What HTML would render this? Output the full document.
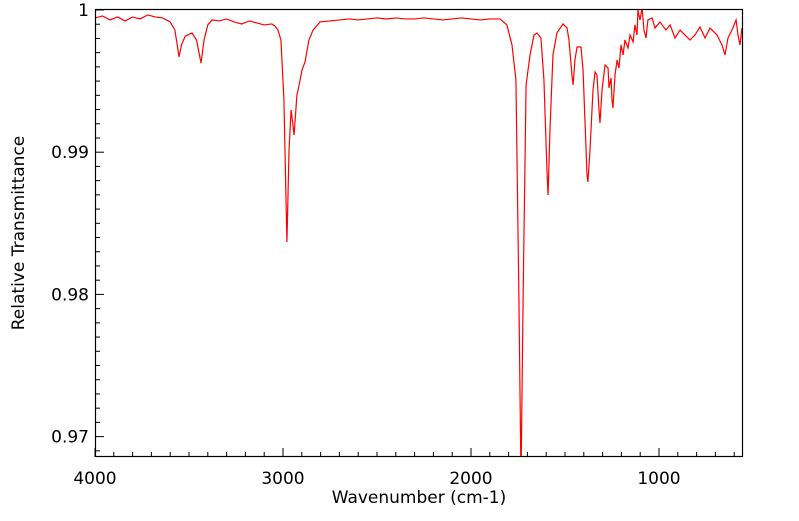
<!DOCTYPE html>
<html><head><meta charset="utf-8"><style>
html,body{margin:0;padding:0;background:#fff;}
svg text{font-family:"DejaVu Sans","Liberation Sans",sans-serif;fill:#000;}
</style></head><body>
<svg id="chart" width="799" height="516" xmlns="http://www.w3.org/2000/svg">
<defs><clipPath id="clip"><rect x="95" y="10" width="648" height="447"/></clipPath></defs>
<g id="axes"></g>
<path id="spec" fill="none" stroke="#ff0000" stroke-width="1.2" clip-path="url(#clip)"/>
<rect x="95.5" y="9.5" width="647" height="447" fill="none" stroke="#000" stroke-width="1.2"/>
<text x="419" y="503" text-anchor="middle" font-size="17">Wavenumber (cm-1)</text>
<text x="24" y="233" text-anchor="middle" font-size="17" transform="rotate(-90 24 233)">Relative Transmittance</text>
</svg>
<script>
const wavenumbers=[4000,3960,3920,3880,3840,3800,3760,3720,3680,3640,3600,3575,3553,3540,3520,3484,3460,3436,3420,3400,3378,3340,3300,3260,3220,3180,3140,3100,3060,3043,3027,3011,2995,2984,2979,2968,2957,2947,2941,2926,2915,2899,2883,2862,2840,2803,2750,2697,2650,2600,2550,2500,2450,2400,2350,2300,2250,2200,2150,2100,2050,2000,1950,1900,1846,1809,1782,1761,1745,1734,1723,1707,1686,1665,1649,1628,1612,1596,1590,1580,1564,1543,1511,1489,1479,1463,1457,1447,1436,1415,1404,1394,1383,1378,1367,1351,1340,1330,1319,1314,1303,1287,1271,1266,1255,1250,1245,1234,1223,1213,1202,1191,1181,1165,1154,1138,1128,1117,1112,1101,1090,1080,1069,1059,1037,1021,995,963,941,915,888,862,835,809,782,755,729,691,665,649,633,612,590,580,569,559];
const transmittance=[0.99944,0.99958,0.99930,0.99951,0.99923,0.99951,0.99937,0.99965,0.99951,0.99944,0.99916,0.99859,0.99670,0.99754,0.99817,0.99838,0.99789,0.99627,0.99789,0.99895,0.99930,0.99923,0.99937,0.99916,0.99902,0.99923,0.99909,0.99895,0.99902,0.99888,0.99859,0.99789,0.99367,0.98664,0.98369,0.99016,0.99297,0.99192,0.99121,0.99402,0.99466,0.99578,0.99634,0.99789,0.99859,0.99916,0.99923,0.99930,0.99937,0.99930,0.99937,0.99944,0.99937,0.99944,0.99937,0.99937,0.99944,0.99937,0.99930,0.99937,0.99944,0.99937,0.99930,0.99937,0.99937,0.99895,0.99754,0.99508,0.97961,0.96696,0.97961,0.99473,0.99684,0.99824,0.99838,0.99803,0.99508,0.98875,0.98699,0.99156,0.99684,0.99838,0.99902,0.99873,0.99789,0.99543,0.99473,0.99649,0.99740,0.99740,0.99578,0.99227,0.98840,0.98791,0.99016,0.99438,0.99564,0.99543,0.99297,0.99206,0.99438,0.99613,0.99592,0.99452,0.99522,0.99367,0.99311,0.99543,0.99649,0.99592,0.99754,0.99684,0.99789,0.99733,0.99824,0.99775,0.99895,0.99824,1.00000,0.99930,1.00014,0.99859,0.99803,0.99930,0.99944,0.99873,0.99916,0.99859,0.99895,0.99803,0.99859,0.99824,0.99789,0.99824,0.99880,0.99803,0.99873,0.99824,0.99754,0.99684,0.99803,0.99859,0.99930,0.99824,0.99754,0.99873];
const xTicks=[4000,3000,2000,1000];
const xTickLabels=["4000","3000","2000","1000"];
const yTicks=[1.00,0.99,0.98,0.97];
const yTickLabels=["1","0.99","0.98","0.97"];

const X0=95,Y0=10,Y1=457;
function xs(w){return X0+(4000-w)*0.188;}
function ys(t){return Y0+(1-t)*14220;}
const NS="http://www.w3.org/2000/svg";
let d="";
for(let i=0;i<wavenumbers.length;i++){d+=(i?"L":"M")+xs(wavenumbers[i]).toFixed(2)+" "+ys(transmittance[i]).toFixed(2);}
document.getElementById("spec").setAttribute("d",d);
const ax=document.getElementById("axes");
function line(x1,y1,x2,y2){const l=document.createElementNS(NS,"line");l.setAttribute("x1",x1);l.setAttribute("y1",y1);l.setAttribute("x2",x2);l.setAttribute("y2",y2);l.setAttribute("stroke","#000");l.setAttribute("stroke-width","1");


ax.appendChild(l);}
for(let w=4000;w>=556;w-=100){const x=xs(w);const major=w%1000===0;line(x,Y1,x,Y1-(major?9:5));}
for(let k=0;k<=31;k++){const t=1-k*0.001;const y=ys(t);if(y>Y1)break;const major=k%10===0;line(X0,y,X0+(major?9:5),y);}
xTicks.forEach((w,i)=>{const t=document.createElementNS(NS,"text");t.setAttribute("x",xs(w));t.setAttribute("y",484);t.setAttribute("text-anchor","middle");t.setAttribute("font-size","17");t.textContent=xTickLabels[i];


document.getElementById("chart").appendChild(t);});
yTicks.forEach((v,i)=>{const t=document.createElementNS(NS,"text");t.setAttribute("x",89);t.setAttribute("y",ys(v)+6);t.setAttribute("text-anchor","end");t.setAttribute("font-size","17");t.textContent=yTickLabels[i];


document.getElementById("chart").appendChild(t);});
</script>
</body></html>
